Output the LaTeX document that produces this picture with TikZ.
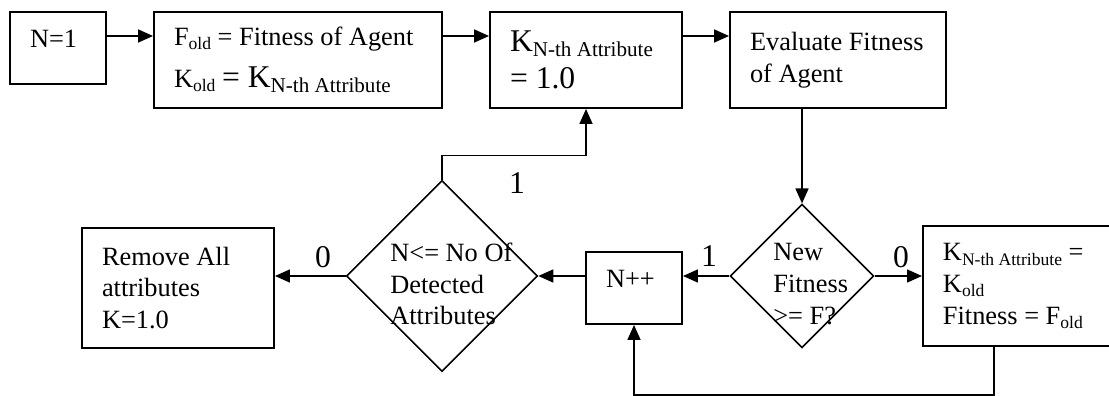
\documentclass[tikz,border=0pt]{standalone}
\usepackage{fontspec}
\setmainfont{Liberation Serif}
\usetikzlibrary{arrows.meta,positioning,shapes.geometric}
\newcommand{\lowtxt}[2][10]{\raisebox{-0.35ex}{\fontsize{#1}{#1}\selectfont #2}}
\tikzset{
  >={Triangle[length=3mm,width=2.6mm]},
  box/.style={draw,line width=1.1pt,inner xsep=4mm,inner ysep=0pt,align=justify,
    minimum height=#1,font=\fontsize{15}{18}\selectfont},
  box/.default=14.4mm,
  decision/.style={diamond,draw,line width=0.9pt,inner sep=0pt,
    minimum width=#1,minimum height=#1},
  ask/.style={inner sep=0pt,text width=30mm,align=justify,anchor=west,font=\fontsize{15}{18}\selectfont},
  flow/.style={->,line width=0.9pt},
  tag/.style={inner sep=0pt,font=\fontsize{18}{18}\selectfont},
}
\begin{document}
\begin{tikzpicture}
  \useasboundingbox (0,0) rectangle (22.18,-7.92);
  \coordinate (row) at (0,-0.72);
  \coordinate (loop) at (19.88,-7.9);
  % top row
  \node[box,text width=11.2mm,text height=3.5mm,text depth=3.5mm] (start) at (1.16,-0.96) {N=1};
  \node[box=19.2mm,text width=49.6mm] (init) at (5.96,-1.2)
    {F\lowtxt{old} = Fitness of Agent\\[6pt]K\lowtxt{old} {\fontsize{18}{18}\selectfont= K\lowtxt[12]{N-th Attribute}}};
  \node[box=19.2mm,text width=30.4mm,font=\fontsize{18}{21}\selectfont] (reset) at (11.72,-1.2)
    {K\lowtxt[12]{N-th Attribute}\\= 1.0};
  \node[box=19.2mm,text width=35.2mm] (eval) at (16.76,-1.2) {Evaluate Fitness\\of Agent};
  % bottom row
  \node[box=24mm,text width=30.4mm] (remove) at (3.56,-5.76) {Remove All\\attributes\\K=1.0};
  \node[decision=38.2mm] (check) at (8.84,-5.52) {};
  \node[box,text width=11.2mm,text height=3.5mm,text depth=3.5mm] (inc) at (12.68,-5.76) {N++};
  \node[decision=28.7mm] (test) at (16.04,-5.52) {};
  \node[box=24mm,text width=36mm,anchor=west] (restore) at (18.44,-5.72)
    {K\lowtxt{N-th Attribute} =\\K\lowtxt{old}\\Fitness = F\lowtxt{old}};
  \node[ask] (checktxt) at ([xshift=-10.4mm,yshift=-1.6mm]check.center) {N<= No Of\\Detected\\Attributes};
  \node[ask] (testtxt) at ([xshift=-5.8mm,yshift=-1.6mm]test.center) {New\\Fitness\\>= F?};
  % connectors
  \draw[flow] (start.east |- row) -- (init.west |- row);
  \draw[flow] (init.east |- row) -- (reset.west |- row);
  \draw[flow] (reset.east |- row) -- (eval.west |- row);
  \draw[flow] (eval.south -| test.north) -- (test.north);
  \draw[flow] (test.west) -- (test.west -| inc.east);
  \draw[flow] (test.east) -- (test.east -| restore.west);
  \draw[flow] (check.east -| inc.west) -- (check.east);
  \draw[flow] (check.west) -- (check.west -| remove.east);
  \draw[flow] (check.north) -- ++(0,0.48) -| (reset.south);
  \draw[flow] (restore.south -| loop) -- (loop) -| (inc.south);
  % branch labels
  \node[tag] (yes1) at (10.34,-3.66) {1};
  \node[tag] (yes2) at (14.18,-5.12) {1};
  \node[tag] (no2) at (18.02,-5.14) {0};
  \node[tag] (no1) at (6.46,-5.14) {0};
\end{tikzpicture}
\end{document}
